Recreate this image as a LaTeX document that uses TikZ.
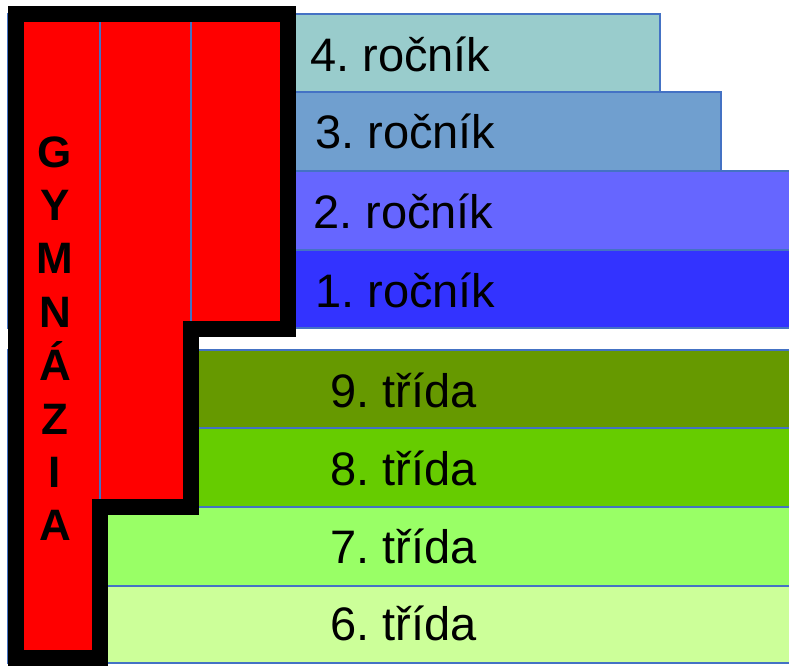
\documentclass[tikz,border=0pt]{standalone}
\usepackage{fontspec}
\setmainfont{Liberation Sans}
\usetikzlibrary{positioning}
\frenchspacing
\definecolor{edge}{RGB}{68,114,196}
\definecolor{rocnik4}{RGB}{153,204,204}
\definecolor{rocnik3}{RGB}{112,159,207}
\definecolor{rocnik2}{RGB}{102,102,255}
\definecolor{rocnik1}{RGB}{51,51,255}
\definecolor{trida9}{RGB}{102,153,0}
\definecolor{trida8}{RGB}{102,204,0}
\definecolor{trida7}{RGB}{153,255,102}
\definecolor{trida6}{RGB}{204,255,153}
\definecolor{gymred}{RGB}{255,0,0}
\begin{document}
\begin{tikzpicture} [x=1pt, y=-1pt,
  yearbar/.style={draw=edge, line width=1.5pt},
  yeartext/.style={anchor=base west, inner sep=0pt, font=\fontsize{47}{50}\selectfont},
  gymletter/.style={anchor=base, inner sep=0pt, font=\fontsize{44}{48}\selectfont\bfseries}]
\useasboundingbox (0,0) rectangle (789,666);
% upper grades
\draw[yearbar, fill=rocnik4] (8,14) rectangle (660,92);
\draw[yearbar, fill=rocnik3] (8,92) rectangle (721,171);
\draw[yearbar, fill=rocnik2] (8,171) rectangle (800,250);
\draw[yearbar, fill=rocnik1] (8,250) rectangle (800,328);
% lower grades
\draw[yearbar, fill=trida9] (8,350) rectangle (800,428);
\draw[yearbar, fill=trida8] (8,428) rectangle (800,507);
\draw[yearbar, fill=trida7] (8,507) rectangle (800,586);
\draw[yearbar, fill=trida6] (8,586) rectangle (800,663);
\node[yeartext] (r4) at (310,72) {4. ročník};
\node[yeartext] (r3) at (315,148) {3. ročník};
\node[yeartext] (r2) at (313,228) {2. ročník};
\node[yeartext] (r1) at (315,307) {1. ročník};
\node[yeartext] (t9) at (330,407) {9. třída};
\node[yeartext] (t8) at (330,485) {8. třída};
\node[yeartext] (t7) at (330,563) {7. třída};
\node[yeartext] (t6) at (330,640) {6. třída};
% gymnasium
\fill[gymred] (16,14) -- (288,14) -- (288,329) -- (191,329) -- (191,507)
  -- (100,507) -- (100,658) -- (16,658) -- cycle;
\draw[edge, line width=1.5pt] (100,22) -- (100,499);
\draw[edge, line width=1.5pt] (191,22) -- (191,321);
\draw[line width=16pt] (16,14) -- (288,14) -- (288,329) -- (191,329) -- (191,507)
  -- (100,507) -- (100,658) -- (16,658) -- cycle;
\foreach \ch [count=\i] in {G,Y,M,N,Á,Z,I,A}
  \node[gymletter] (g\i) at (55,{167+53.4*(\i-1)}) {\ch};
\end{tikzpicture}
\end{document}
